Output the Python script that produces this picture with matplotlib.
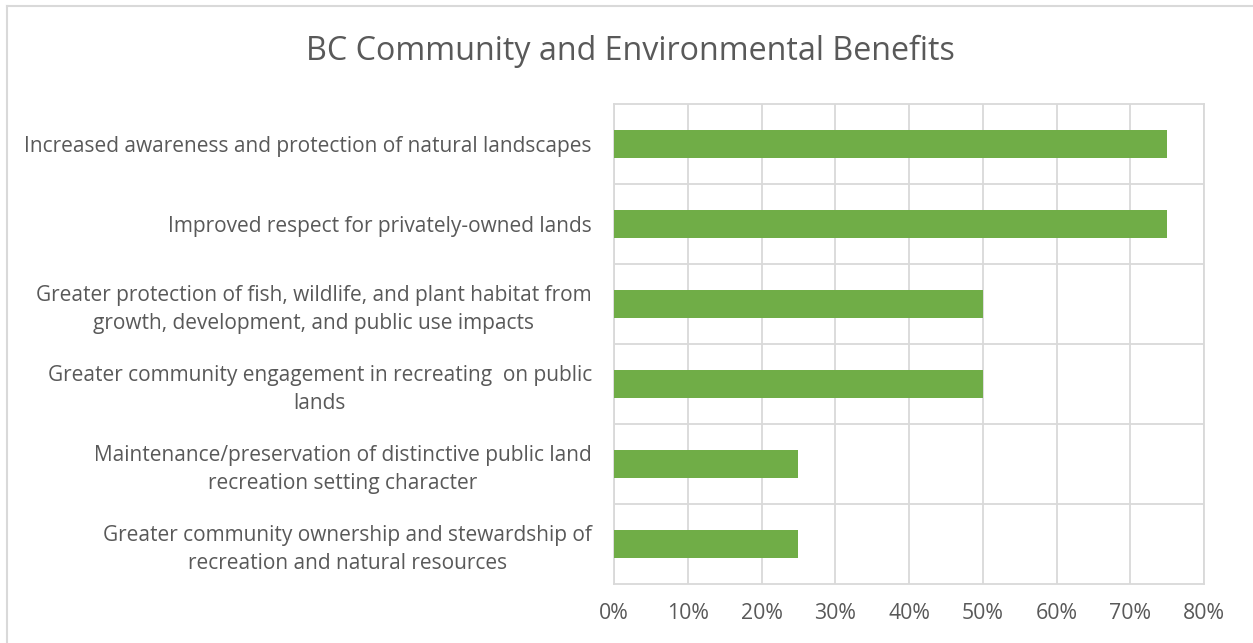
import matplotlib
matplotlib.use("Agg")
import matplotlib.pyplot as plt
from matplotlib.lines import Line2D
from matplotlib.ticker import PercentFormatter

categories = [
    "Increased awareness and protection of natural landscapes",
    "Improved respect for privately-owned lands",
    "Greater protection of fish, wildlife, and plant habitat from\ngrowth, development, and public use impacts",
    "Greater community engagement in recreating  on public\nlands",
    "Maintenance/preservation of distinctive public land\nrecreation setting character",
    "Greater community ownership and stewardship of\nrecreation and natural resources",
]
values = [75, 75, 50, 50, 25, 25]
x_ticks = [0, 10, 20, 30, 40, 50, 60, 70, 80]

TEXT = "#595959"
GRID = "#D9D9D9"
BAR = "#70AD47"
FONT = ["Open Sans", "DejaVu Sans"]

plt.rcParams["font.family"] = FONT

fig = plt.figure(figsize=(12.53, 6.43), dpi=100)
ax = fig.add_axes([614 / 1253, 1 - 584 / 643, 590 / 1253, 480 / 643])

pos = list(range(len(categories)))
ax.barh(pos, values, height=0.35, color=BAR, zorder=3)
ax.set_ylim(len(categories) - 0.5, -0.5)
ax.set_xlim(0, 80)
ax.set_xticks(x_ticks)
ax.xaxis.set_major_formatter(PercentFormatter(decimals=0))

ax.set_yticks([p + 0.5 for p in pos[:-1]], minor=True)
ax.set_yticks(pos)
ax.set_yticklabels(categories)
for lbl in ax.get_yticklabels():
    lbl.set_multialignment("center")
    lbl.set_linespacing(1.4)

ax.grid(True, axis="x", color=GRID, linewidth=1.3, zorder=0)
ax.grid(True, axis="y", which="minor", color=GRID, linewidth=1.3, zorder=0)
for s in ax.spines.values():
    s.set_color(GRID)
    s.set_linewidth(1.3)

ax.tick_params(axis="both", which="both", length=0, colors=TEXT)
ax.tick_params(axis="y", labelsize=15, pad=16)
ax.tick_params(axis="x", labelsize=15.3, pad=14)

fig.text(0.503, 1 - 51 / 643, "BC Community and Environmental Benefits",
         ha="center", va="center", fontsize=23.2, color=TEXT)

# outer chart frame (left and top edges)
fig.add_artist(Line2D([7 / 1253, 7 / 1253], [0, 1 - 6 / 643], transform=fig.transFigure,
                      color=GRID, linewidth=1.5))
fig.add_artist(Line2D([7 / 1253, 1], [1 - 6 / 643, 1 - 6 / 643], transform=fig.transFigure,
                      color=GRID, linewidth=1.5))

fig.savefig("out.png", dpi=100, facecolor="white")
